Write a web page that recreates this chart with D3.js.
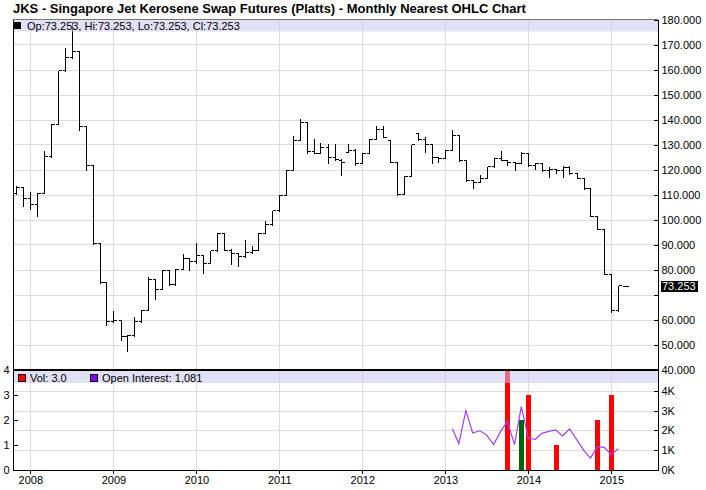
<!DOCTYPE html>
<html><head><meta charset="utf-8">
<script src="https://cdn.jsdelivr.net/npm/d3@7"></script>
<style>
body{margin:0;background:#fff;}
svg{display:block;font-family:"Liberation Sans",Arial,Helvetica,sans-serif;}
</style></head><body>
<svg id="c" width="706" height="490"></svg>
<script>
const title = "JKS - Singapore Jet Kerosene Swap Futures (Platts) - Monthly Nearest OHLC Chart";
const months = ["2007-11","2007-12",
 "2008-01","2008-02","2008-03","2008-04","2008-05","2008-06","2008-07","2008-08","2008-09","2008-10","2008-11","2008-12",
 "2009-01","2009-02","2009-03","2009-04","2009-05","2009-06","2009-07","2009-08","2009-09","2009-10","2009-11","2009-12",
 "2010-01","2010-02","2010-03","2010-04","2010-05","2010-06","2010-07","2010-08","2010-09","2010-10","2010-11","2010-12",
 "2011-01","2011-02","2011-03","2011-04","2011-05","2011-06","2011-07","2011-08","2011-09","2011-10","2011-11","2011-12",
 "2012-01","2012-02","2012-03","2012-04","2012-05","2012-06","2012-07","2012-08","2012-09","2012-10","2012-11","2012-12",
 "2013-01","2013-02","2013-03","2013-04","2013-05","2013-06","2013-07","2013-08","2013-09","2013-10","2013-11","2013-12",
 "2014-01","2014-02","2014-03","2014-04","2014-05","2014-06","2014-07","2014-08","2014-09","2014-10","2014-11","2014-12",
 "2015-01","2015-02","2015-03"];
const opens = [110.8,113.1,
 108.4,106.1,110.8,125.3,138.4,159.7,164.8,167.3,137.5,121.7,90.7,75.1,
 59.3,60.0,53.3,53.7,59.3,64.0,76.4,72.4,80.0,74.1,80.3,84.8,
 83.5,86.0,82.7,87.7,94.8,88.0,86.8,85.3,87.0,88.0,94.7,98.1,
 103.7,110.0,120.0,132.0,138.9,127.3,126.8,129.1,125.1,123.7,127.1,128.0,
 122.8,126.8,132.4,136.1,132.0,123.2,110.4,117.6,134.4,132.4,130.1,125.1,
 124.8,128.0,133.7,123.7,116.0,115.1,116.7,121.3,124.7,124.0,123.1,122.8,
 126.8,121.7,122.8,119.7,120.4,120.0,121.1,118.8,116.8,112.4,101.6,96.4,
 78.4,63.7,73.253];
const highs = [113.7,113.3,
 111.3,111.0,127.7,138.7,160.0,169.1,179.5,167.5,137.7,121.9,90.9,75.3,
 63.7,60.2,54.1,61.5,64.2,77.5,76.6,80.2,80.2,80.5,86.7,85.0,
 91.0,86.2,87.9,95.0,95.0,88.5,87.0,92.0,89.8,94.9,99.7,103.9,
 110.2,120.2,134.0,140.4,139.5,132.7,130.8,130.4,130.4,124.5,130.4,128.5,
 127.2,132.6,138.0,138.0,132.2,123.4,118.0,130.2,135.0,133.3,130.3,125.3,
 128.2,136.4,133.9,123.9,116.2,118.1,121.5,124.9,127.7,124.2,123.3,127.5,
 127.0,123.1,123.0,121.3,120.6,121.7,121.7,119.0,117.0,112.6,101.8,96.6,
 78.6,73.9,73.253];
const lows = [110.4,105.5,
 104.4,101.5,110.6,125.1,138.2,159.5,164.5,136.0,119.7,90.0,74.8,57.7,
 59.1,52.0,47.5,53.5,59.1,63.8,68.4,72.2,73.7,73.9,80.1,80.0,
 82.4,78.7,82.5,87.5,87.8,82.3,81.5,85.1,86.8,87.8,94.5,97.9,
 103.5,109.8,119.8,131.8,126.7,126.5,126.6,122.7,124.0,117.9,126.9,121.7,
 122.6,126.6,132.2,132.9,123.0,110.0,110.2,117.4,132.0,127.1,122.7,123.1,
 124.6,127.8,123.3,115.5,112.4,114.9,116.5,121.1,123.8,121.7,120.0,122.6,
 121.5,120.4,119.5,117.1,118.7,117.1,118.1,116.6,112.2,101.3,96.2,78.2,
 63.1,63.5,73.253];
const closes = [113.1,108.4,
 106.1,110.8,125.3,138.4,159.7,164.8,167.3,137.5,121.7,90.7,75.1,59.3,
 60.0,53.3,53.7,59.3,64.0,76.4,72.4,80.0,74.1,80.3,84.8,83.5,
 86.0,82.7,87.7,94.8,88.0,86.8,85.3,87.0,88.0,94.7,98.1,103.7,
 110.0,120.0,132.0,138.9,127.3,126.8,129.1,125.1,124.3,123.2,128.0,122.8,
 126.8,132.4,136.1,133.1,123.2,110.4,117.6,130.0,132.4,130.1,125.1,124.8,
 128.0,133.7,123.7,116.0,115.1,116.7,121.3,124.7,124.0,123.1,122.8,126.8,
 121.7,122.8,119.7,120.4,120.0,121.1,118.8,116.8,112.4,101.6,96.4,78.4,
 63.7,73.7,73.253];
const volMonths = ["2013-10","2013-12","2014-01","2014-05","2014-11","2015-01"];
const volumes = [6,2,3,1,2,3];
const oiMonths = ["2013-02","2013-03","2013-04","2013-05","2013-06","2013-07","2013-08","2013-09","2013-10","2013-11","2013-12",
 "2014-01","2014-02","2014-03","2014-04","2014-05","2014-06","2014-07","2014-08","2014-09","2014-10","2014-11","2014-12",
 "2015-01","2015-02"];
const openInterest = [2083,1330,3000,1870,1980,1770,1280,1950,2450,1280,3200,
 1600,1550,1850,1950,2030,1720,2070,1550,1000,600,1180,1140,
 770,1081];
const priceTicks = [40,50,60,70,80,90,100,110,120,130,140,150,160,170,180];
const volTicks = [0,1,2,3,4];
const oiTicks = [0,1000,2000,3000,4000];
const yearTicks = ["2008","2009","2010","2011","2012","2013","2014","2015"];
const lastPrice = 73.253, lastVol = 3.0, lastOI = 1081;

// layout
const L = 13, R = 658, mTop = 19.5, mBot = 369.5, vTop = 370, vBot = 470;
const parseM = d3.timeParse("%Y-%m"), parseY = d3.timeParse("%Y");
const x = d3.scaleTime().domain([new Date(2008,0,1), new Date(2015,0,1)]).range([30.3, 611.3]);
const yP = d3.scaleLinear().domain([40,180]).range([mBot, mTop]);
const yV = d3.scaleLinear().domain([0,4]).range([vBot, vTop]);
const yOI = d3.scaleLinear().domain([0,5000]).range([vBot, vTop + 1]);
const px = v => Math.round(v) + 0.5;

const svg = d3.select("#c");
svg.append("rect").attr("width",706).attr("height",490).attr("fill","#fff");
const grid = "#dcdcdc";
const gG = svg.append("g").attr("stroke", grid).attr("stroke-width",1).attr("shape-rendering","crispEdges");
yearTicks.forEach(t => {
  const xx = px(x(parseY(t)));
  gG.append("line").attr("x1",xx).attr("x2",xx).attr("y1",mTop).attr("y2",vBot);
});
priceTicks.filter(t => t>40 && t<180).forEach(t => {
  gG.append("line").attr("x1",L).attr("x2",R).attr("y1",px(yP(t))).attr("y2",px(yP(t)));
});
oiTicks.filter(t => t>0).forEach(t => {
  gG.append("line").attr("x1",L).attr("x2",R).attr("y1",px(yOI(t))).attr("y2",px(yOI(t)));
});

// OHLC bars
const bars = months.map((m,i) => ({d: parseM(m), o: opens[i], h: highs[i], l: lows[i], c: closes[i]}));
svg.append("g").attr("stroke","#000").attr("stroke-width",1).attr("fill","none").attr("shape-rendering","crispEdges")
  .selectAll("path").data(bars).join("path")
  .attr("d", b => {
    const xx = px(x(b.d));
    const yh = px(yP(b.h)), yl = px(yP(b.l)), yo = px(yP(b.o)), yc = px(yP(b.c));
    let p = "";
    if (yl - yh > 0) p += `M${xx},${yh}V${yl}`;
    p += `M${xx-3},${yo}H${xx}M${xx},${yc}H${xx+3.5}`;
    if (yl - yh <= 0) p = `M${xx-3},${yo}H${xx+3.5}`;
    return p;
  });

// volume
svg.append("clipPath").attr("id","vclip").append("rect").attr("x",L).attr("y",vTop).attr("width",R-L).attr("height",vBot-vTop);
const vol = volMonths.map((m,i) => {
  const k = months.indexOf(m);
  return {d: parseM(m), v: volumes[i], up: closes[k] >= opens[k]};
});
svg.append("g").attr("clip-path","url(#vclip)").attr("shape-rendering","crispEdges")
  .selectAll("rect").data(vol).join("rect")
  .attr("x", d => Math.round(x(d.d)) - 2).attr("width",5)
  .attr("y", d => Math.round(yV(d.v))).attr("height", d => vBot - Math.round(yV(d.v)))
  .attr("fill", d => d.up ? "#006400" : "#ff0000");

// open interest
const oi = oiMonths.map((m,i) => ({d: parseM(m), v: openInterest[i]}));
svg.append("path").datum(oi).attr("fill","none").attr("stroke","#a040ff").attr("stroke-width",1.2)
  .attr("d", d3.line().x(d => x(d.d)).y(d => yOI(d.v)));

// legend bands
svg.append("rect").attr("x",L).attr("y",mTop).attr("width",R-L).attr("height",12).attr("fill","rgba(200,200,238,0.55)");
svg.append("rect").attr("x",L).attr("y",vTop+1).attr("width",R-L).attr("height",12).attr("fill","rgba(200,200,238,0.55)");

// frame / axes lines
const fr = svg.append("g").attr("stroke","#000").attr("shape-rendering","crispEdges");
fr.append("line").attr("x1",L).attr("x2",R).attr("y1",mTop).attr("y2",mTop).attr("stroke","#777");
fr.append("line").attr("x1",L+0.5).attr("x2",L+0.5).attr("y1",mTop).attr("y2",vBot);
fr.append("line").attr("x1",R+0.5).attr("x2",R+0.5).attr("y1",mTop).attr("y2",vBot+1);
fr.append("line").attr("x1",L).attr("x2",R+1).attr("y1",vBot+0.5).attr("y2",vBot+0.5);
fr.append("line").attr("x1",L).attr("x2",R+1).attr("y1",370).attr("y2",370).attr("stroke-width",2);

const fmt3 = d3.format(".3f");
// right price axis
const yLast = yP(lastPrice);
const ax1 = svg.append("g").attr("transform",`translate(${R+0.5},0)`)
  .call(d3.axisRight(yP).tickValues(priceTicks).tickSizeInner(-5).tickSizeOuter(0).tickPadding(3)
    .tickFormat(t => Math.abs(yP(t) - yLast) < 10 ? "" : fmt3(t)));
// right OI axis
const ax2 = svg.append("g").attr("transform",`translate(${R+0.5},0)`)
  .call(d3.axisRight(yOI).tickValues(oiTicks).tickSizeInner(-5).tickSizeOuter(0).tickPadding(3)
    .tickFormat(t => (t/1000) + "K"));
// left volume axis
const ax3 = svg.append("g").attr("transform",`translate(${L+0.5},0)`)
  .call(d3.axisLeft(yV).tickValues(volTicks).tickSizeInner(-4).tickSizeOuter(0).tickPadding(4)
    .tickFormat(d3.format("d")));
// bottom time axis
const ax4 = svg.append("g").attr("transform",`translate(0,${vBot+0.5})`)
  .call(d3.axisBottom(x).tickValues(yearTicks.map(parseY)).tickSizeInner(3).tickSizeOuter(0).tickPadding(3)
    .tickFormat(d3.timeFormat("%Y")));
[ax1,ax2,ax3,ax4].forEach(a => {
  a.select(".domain").remove();
  a.selectAll("text").attr("font-size",11).attr("font-family",'"Liberation Sans",Arial,sans-serif').attr("fill","#000");
  a.selectAll("line").attr("stroke","#000").attr("shape-rendering","crispEdges");
});
ax4.selectAll("text").attr("dy","0.72em");

// last price box
svg.append("rect").attr("x",R+3).attr("y",Math.round(yLast)-5).attr("width",37).attr("height",11).attr("fill","#000");
svg.append("text").attr("x",R+4).attr("y",yLast).attr("dy","0.35em").attr("font-size",11).attr("fill","#fff").text(fmt3(lastPrice));

// title
svg.append("text").attr("x",L).attr("y",13).attr("font-size",13).attr("font-weight","bold").attr("fill","#000").text(title);

// legends
svg.append("rect").attr("x",14).attr("y",22).attr("width",7).attr("height",7).attr("fill","#000");
svg.append("text").attr("x",27).attr("y",29.5).attr("font-size",11).attr("fill","#000")
  .text(`Op:${fmt3(opens[opens.length-1])}, Hi:${fmt3(highs[highs.length-1])}, Lo:${fmt3(lows[lows.length-1])}, Cl:${fmt3(closes[closes.length-1])}`);
svg.append("rect").attr("x",18.5).attr("y",374.5).attr("width",7).attr("height",7).attr("fill","#ff0000").attr("stroke","#000");
svg.append("text").attr("x",30).attr("y",382).attr("font-size",11).attr("fill","#000").text(`Vol: ${lastVol.toFixed(1)}`);
svg.append("rect").attr("x",90.5).attr("y",374.5).attr("width",7).attr("height",7).attr("fill","#8800ff").attr("stroke","#000");
svg.append("text").attr("x",102).attr("y",382).attr("font-size",11).attr("fill","#000").text(`Open Interest: ${d3.format(",")(lastOI)}`);
</script>
</body></html>
